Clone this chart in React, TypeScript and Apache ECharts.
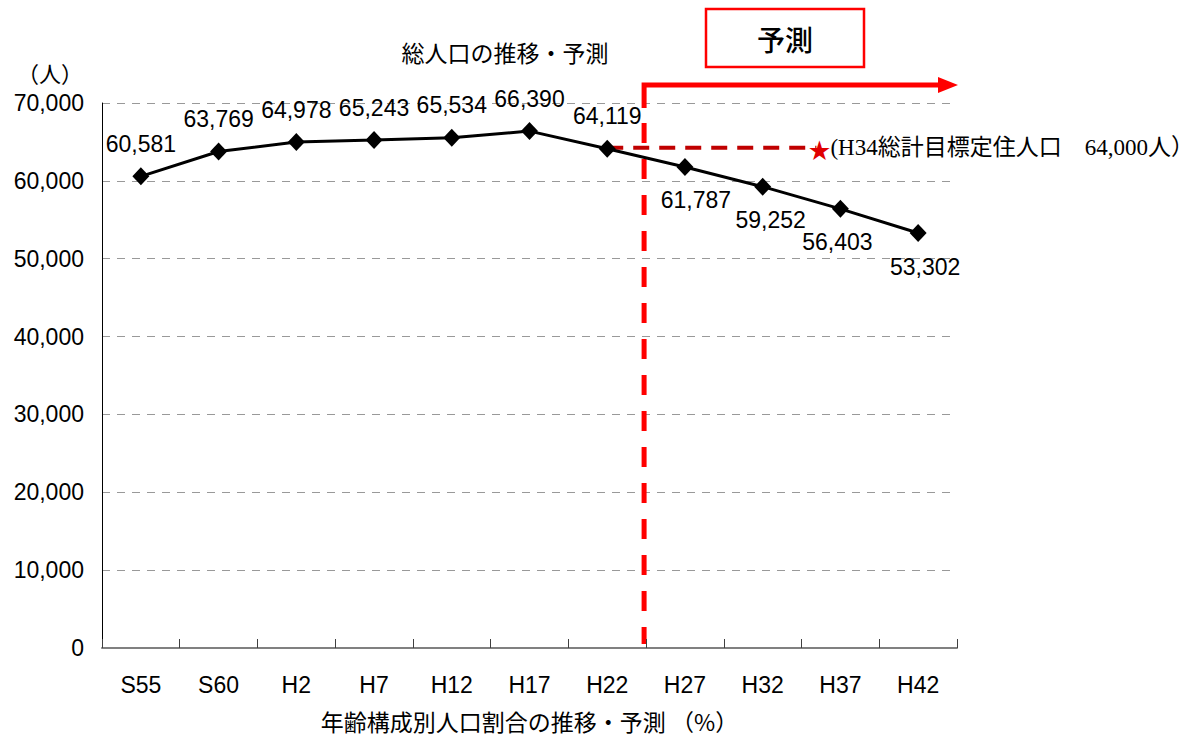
import React, { useEffect, useRef } from "react";
import * as echarts from "echarts";

const categories = ["S55", "S60", "H2", "H7", "H12", "H17", "H22", "H27", "H32", "H37", "H42"];
const population = [60581, 63769, 64978, 65243, 65534, 66390, 64119, 61787, 59252, 56403, 53302];
const yMin = 0;
const yMax = 70000;
const yInterval = 10000;
const forecastStartIndex = 7;
const targetValue = 64000;
const targetText = "(H34総計目標定住人口　64,000人）";
const labelDx = [0, 0, 0, 0, 0, 0, 0, 11, 8, -3, 7];

const SANS = "'Liberation Sans', 'Noto Sans CJK JP', sans-serif";
const CJK = "'Noto Sans CJK JP', 'Liberation Sans', sans-serif";
const SERIF = "'Liberation Serif', 'Noto Sans CJK JP', serif";

const fmt = (v: number) => v.toLocaleString("en-US");

export default function App() {
  const ref = useRef<HTMLDivElement>(null);
  useEffect(() => {
    document.body.style.margin = "0";
    const chart = echarts.init(ref.current!, null, { renderer: "svg" });
    const option: any = {
      animation: false,
      grid: { left: 102, right: 241, top: 103, bottom: 90 },
      xAxis: {
        type: "category",
        data: categories,
        boundaryGap: true,
        axisLine: { lineStyle: { color: "#808080", width: 2 } },
        axisTick: { show: true, inside: true, length: 9, lineStyle: { color: "#404040", width: 1 } },
        axisLabel: { color: "#000", fontSize: 23, margin: 25, fontFamily: SANS },
        name: "年齢構成別人口割合の推移・予測 （%）",
        nameLocation: "middle",
        nameGap: 61,
        nameTextStyle: { color: "#000", fontSize: 23, fontFamily: CJK },
      },
      yAxis: {
        type: "value",
        min: yMin,
        max: yMax,
        interval: yInterval,
        axisLine: { show: true, lineStyle: { color: "#000", width: 1 } },
        axisTick: { show: false },
        splitLine: { lineStyle: { color: "#999", type: [8, 7], width: 1 } },
        axisLabel: { color: "#000", fontSize: 23, margin: 18, fontFamily: SANS, formatter: (v: number) => fmt(v) },
      },
      series: [
        {
          type: "line",
          data: population.map((v, i) => ({
            value: v,
            label: {
              position: i >= forecastStartIndex ? "bottom" : "top",
              distance: i >= forecastStartIndex ? 13 : 12,
              offset: [labelDx[i], 0],
            },
          })),
          symbol: "diamond",
          symbolSize: [17, 18],
          itemStyle: { color: "#000" },
          lineStyle: { color: "#000", width: 3 },
          label: {
            show: true,
            color: "#000",
            fontSize: 23,
            fontFamily: SANS,
            formatter: (p: any) => fmt(p.value),
          },
          z: 5,
        },
      ],
    };
    chart.setOption(option);

    const px = (i: number, v: number) =>
      chart.convertToPixel({ xAxisIndex: 0, yAxisIndex: 0 }, [i, v]) as number[];
    const bx = (px(forecastStartIndex - 1, 0)[0] + px(forecastStartIndex, 0)[0]) / 2 - 2;
    const yTop = px(0, yMax)[1];
    const y0 = px(0, yMin)[1];
    const xRight = px(categories.length - 1, 0)[0] + (px(1, 0)[0] - px(0, 0)[0]) / 2;
    const yArrow = yTop - 18;
    const tipX = xRight + 1;
    const [tx0, ty0] = px(forecastStartIndex - 1, targetValue);
    const ty = ty0 - 2;
    const txEnd = px(forecastStartIndex + 2, targetValue)[0] - 24;

    chart.setOption({
      graphic: [
        {
          type: "text",
          x: 505,
          y: 52,
          style: { text: "総人口の推移・予測", fontSize: 23, fontFamily: CJK, fill: "#000", textAlign: "center", textVerticalAlign: "middle" },
        },
        {
          type: "text",
          x: 50,
          y: 72,
          style: { text: "（人）", fontSize: 22, fontFamily: CJK, fill: "#000", textAlign: "center", textVerticalAlign: "middle" },
        },
        {
          type: "rect",
          shape: { x: 706, y: 9, width: 158, height: 58 },
          style: { fill: "#fff", stroke: "#FF0000", lineWidth: 2.5 },
        },
        {
          type: "text",
          x: 785,
          y: 39,
          style: { text: "予測", fontSize: 28, fontWeight: 500, fontFamily: CJK, fill: "#000", textAlign: "center", textVerticalAlign: "middle" },
        },
        {
          type: "polyline",
          shape: { points: [[bx, yTop + 5], [bx, yArrow], [tipX - 16, yArrow]] },
          style: { stroke: "#FF0000", lineWidth: 5, fill: "none" },
        },
        {
          type: "polygon",
          shape: { points: [[tipX - 20, yArrow - 8], [tipX, yArrow], [tipX - 20, yArrow + 8]] },
          style: { fill: "#FF0000" },
        },
        {
          type: "line",
          shape: { x1: bx, y1: yTop + 20, x2: bx, y2: y0 - 4 },
          style: { stroke: "#FF0000", lineWidth: 5, lineDash: [20, 16] },
        },
        {
          type: "line",
          shape: { x1: tx0, y1: ty, x2: txEnd, y2: ty },
          style: { stroke: "#C00000", lineWidth: 4, lineDash: [16, 10] },
        },
        {
          type: "text",
          x: txEnd + 3,
          y: ty,
          style: { text: "★", fontSize: 22, fontFamily: CJK, fill: "#E00000", textAlign: "center", textVerticalAlign: "middle" },
        },
        {
          type: "text",
          x: txEnd + 14,
          y: ty,
          style: { text: targetText, fontSize: 23, fontFamily: SERIF, fill: "#000", textAlign: "left", textVerticalAlign: "middle" },
        },
      ],
    });
    return () => chart.dispose();
  }, []);
  return <div ref={ref} style={{ width: 1198, height: 738 }} />;
}
